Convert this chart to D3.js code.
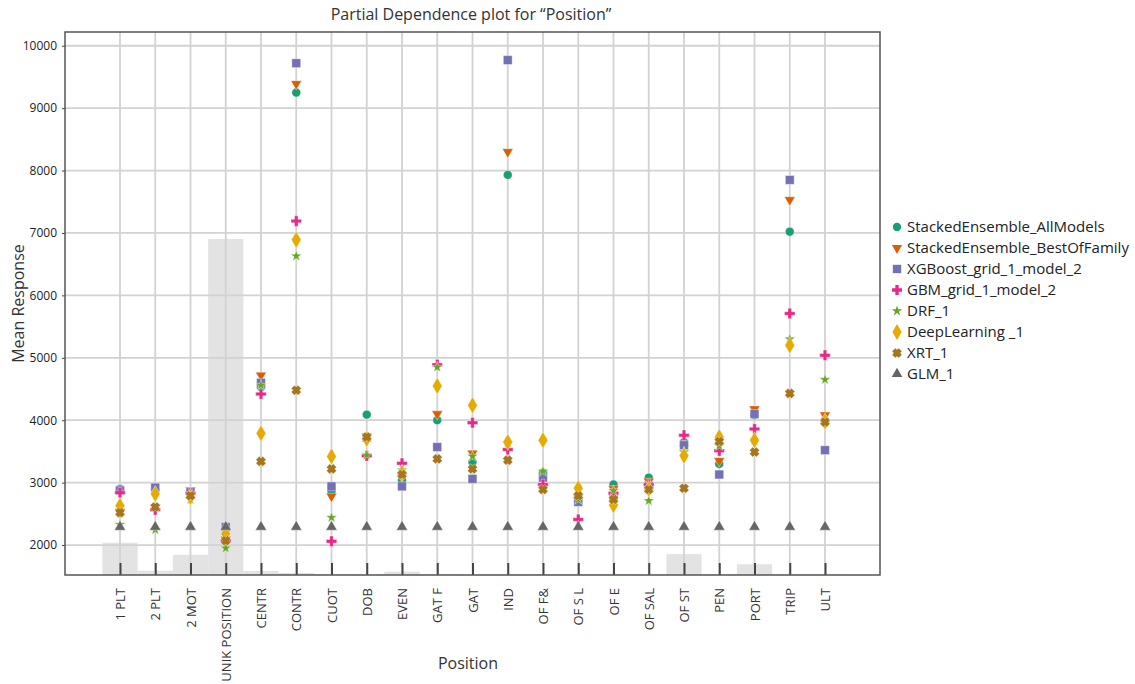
<!DOCTYPE html>
<html>
<head>
<meta charset="utf-8">
<script src="https://cdn.jsdelivr.net/npm/d3@7"></script>
<style>
  body { margin: 0; background: #fff; }
  text { font-family: "Open Sans", sans-serif; fill: #333; }
</style>
</head>
<body>
<div id="chart"></div>
<script>
const categories = ["1 PLT", "2 PLT", "2 MOT", "UNIK POSITION", "CENTR", "CONTR", "CUOT", "DOB", "EVEN", "GAT F",
  "GAT", "IND", "OF F&", "OF S L", "OF E", "OF SAL", "OF ST", "PEN", "PORT", "TRIP", "ULT"];

const models = ["StackedEnsemble_AllModels", "StackedEnsemble_BestOfFamily", "XGBoost_grid_1_model_2",
  "GBM_grid_1_model_2", "DRF_1", "DeepLearning _1", "XRT_1", "GLM_1"];

// mean response per category
const stackedAll   = [2900, 2880, 2820, 2100, 4530, 9250, 2860, 4090, 3040, 4000, 3330, 7930, 3160, 2700, 2970, 3080, 3650, 3300, 4080, 7020, 4000];
const stackedBest  = [2530, 2600, 2880, 2090, 4720, 9390, 2780, 3740, 3100, 4100, 3470, 8300, 2950, 2770, 2900, 3020, 3560, 3350, 4180, 7530, 4080];
const xgboost      = [2875, 2920, 2850, 2290, 4600, 9720, 2940, 3720, 2940, 3570, 3060, 9770, 3080, 2690, 2790, 2950, 3600, 3130, 4100, 7850, 3520];
const gbm          = [2840, 2565, 2830, 2070, 4420, 7190, 2060, 3430, 3310, 4890, 3960, 3530, 2970, 2410, 2830, 2970, 3760, 3510, 3860, 5710, 5040];
const drf          = [2330, 2245, 2730, 1950, 4560, 6630, 2440, 3440, 3200, 4850, 3420, 3640, 3180, 2730, 2870, 2710, 3490, 3590, 3680, 5300, 4650];
const deepLearning = [2630, 2820, 2770, 2180, 3790, 6890, 3420, 3700, 3150, 4550, 4240, 3650, 3680, 2910, 2640, 2900, 3430, 3730, 3680, 5200, 3980];
const xrt          = [2520, 2610, 2790, 2070, 3340, 4480, 3220, 3730, 3130, 3380, 3220, 3360, 2890, 2790, 2730, 2890, 2910, 3660, 3490, 4430, 3970];
const glm          = [2290, 2290, 2290, 2290, 2290, 2290, 2290, 2290, 2290, 2290, 2290, 2290, 2290, 2290, 2290, 2290, 2290, 2290, 2290, 2290, 2290];

// relative frequency of each level (histogram in background), largest = 100
const frequency = [9.6, 1.3, 6.0, 100, 1.2, 0.6, 0.3, 0.15, 1.0, 0.3, 0.15, 0.15, 0.3, 0.3, 0.3, 0.15, 6.2, 0.15, 3.2, 0.15, 0.15];

const yTicks = [2000, 3000, 4000, 5000, 6000, 7000, 8000, 9000, 10000];

const series = [stackedAll, stackedBest, xgboost, gbm, drf, deepLearning, xrt, glm];

const width = 1135, height = 684;
const margin = { top: 32, right: 255, bottom: 109, left: 65 };
const innerW = width - margin.left - margin.right;
const innerH = height - margin.top - margin.bottom;

const color = d3.scaleOrdinal(models, d3.schemeDark2);

// filled, chunky "X" (a thick plus turned 45 degrees)
const symbolFilledX = {
  draw(ctx, size) {
    const r = Math.sqrt(size) / 5.2;
    const a = 1.45, L = 3;
    const pts = [[-L, -a], [-a, -a], [-a, -L], [a, -L], [a, -a], [L, -a], [L, a], [a, a], [a, L], [-a, L], [-a, a], [-L, a]];
    const c = Math.SQRT1_2;
    pts.forEach(([px, py], i) => {
      const x = (px - py) * c * r, y = (px + py) * c * r;
      i ? ctx.lineTo(x, y) : ctx.moveTo(x, y);
    });
    ctx.closePath();
  }
};

const markers = [
  { type: d3.symbolCircle, size: 62, rot: 0 },
  { type: d3.symbolTriangle, size: 50, rot: 180 },
  { type: d3.symbolSquare, size: 78, rot: 0 },
  { type: d3.symbolCross, size: 62, rot: 0 },
  { type: d3.symbolStar, size: 38, rot: 0 },
  { type: d3.symbolDiamond, size: 82, rot: 0 },
  { type: symbolFilledX, size: 70, rot: 0 },
  { type: d3.symbolTriangle, size: 55, rot: 0 }
];

const svg = d3.select("#chart").append("svg")
  .attr("width", width)
  .attr("height", height);

const g = svg.append("g").attr("transform", `translate(${margin.left},${margin.top})`);

const x = d3.scalePoint().domain(categories).range([0, innerW]).padding(1.56);
const y = d3.scaleLinear().domain([1520, 10220]).range([innerH, 0]);
const yFreq = d3.scaleLinear().domain([0, 100]).range([innerH, innerH - 336]);
const step = x.step();

// histogram bars
g.selectAll(".freq")
  .data(categories)
  .join("rect")
  .attr("class", "freq")
  .attr("x", d => x(d) - step / 2)
  .attr("width", step)
  .attr("y", (d, i) => yFreq(frequency[i]))
  .attr("height", (d, i) => innerH - yFreq(frequency[i]))
  .attr("fill", "#e3e3e3");

// grid
g.append("g")
  .selectAll("line")
  .data(yTicks)
  .join("line")
  .attr("x1", 0).attr("x2", innerW)
  .attr("y1", d => y(d)).attr("y2", d => y(d))
  .attr("stroke", "#d2d2d2").attr("stroke-width", 1.8);

g.append("g")
  .selectAll("line")
  .data(categories)
  .join("line")
  .attr("x1", d => x(d)).attr("x2", d => x(d))
  .attr("y1", 0).attr("y2", innerH)
  .attr("stroke", "#d2d2d2").attr("stroke-width", 1.8);

// axes
const xAxis = g.append("g")
  .attr("transform", `translate(0,${innerH})`)
  .call(d3.axisBottom(x).tickSizeInner(-12).tickSizeOuter(0));
xAxis.select(".domain").remove();
xAxis.selectAll("line").attr("stroke", "#444").attr("stroke-width", 2);
xAxis.selectAll("text")
  .attr("transform", "rotate(-90)")
  .attr("x", -13)
  .attr("y", 0)
  .attr("dy", "0.35em")
  .attr("text-anchor", "end")
  .style("font-size", "13px")
  .style("fill", "#333");

const yAxis = g.append("g")
  .call(d3.axisLeft(y).tickValues(yTicks).tickSizeInner(3).tickSizeOuter(0).tickPadding(5).tickFormat(d3.format("d")));
yAxis.select(".domain").remove();
yAxis.selectAll("line").attr("stroke", "#444");
yAxis.selectAll("text").style("font-size", "12px").style("fill", "#222");

// frame
g.append("rect")
  .attr("width", innerW).attr("height", innerH)
  .attr("fill", "none").attr("stroke", "#555").attr("stroke-width", 1.5);

// points
series.forEach((vals, s) => {
  const m = markers[s];
  const sym = d3.symbol().type(m.type).size(m.size);
  g.append("g")
    .selectAll("path")
    .data(vals)
    .join("path")
    .attr("d", sym)
    .attr("transform", (d, i) => `translate(${x(categories[i])},${y(d)}) rotate(${m.rot})`)
    .attr("fill", color(models[s]))
    .attr("stroke", "#fff")
    .attr("stroke-width", 0.4);
});

// titles
svg.append("text")
  .attr("x", 471).attr("y", 20)
  .attr("text-anchor", "middle")
  .style("font-size", "16px")
  .text("Partial Dependence plot for “Position”");

svg.append("text")
  .attr("transform", `translate(24,${margin.top + innerH / 2}) rotate(-90)`)
  .attr("text-anchor", "middle")
  .style("font-size", "16px")
  .text("Mean Response");

svg.append("text")
  .attr("x", 468).attr("y", 669)
  .attr("text-anchor", "middle")
  .style("font-size", "16px")
  .text("Position");

// legend
const legend = svg.append("g").attr("transform", "translate(897,227)");
models.forEach((name, i) => {
  const m = markers[i];
  const row = legend.append("g").attr("transform", `translate(0,${i * 21})`);
  row.append("path")
    .attr("d", d3.symbol().type(m.type).size(m.size * 0.9))
    .attr("transform", `rotate(${m.rot})`)
    .attr("fill", color(name));
  row.append("text")
    .attr("x", 10).attr("dy", "0.35em")
    .style("font-size", "15px")
    .style("fill", "#222")
    .text(name);
});
</script>
</body>
</html>
